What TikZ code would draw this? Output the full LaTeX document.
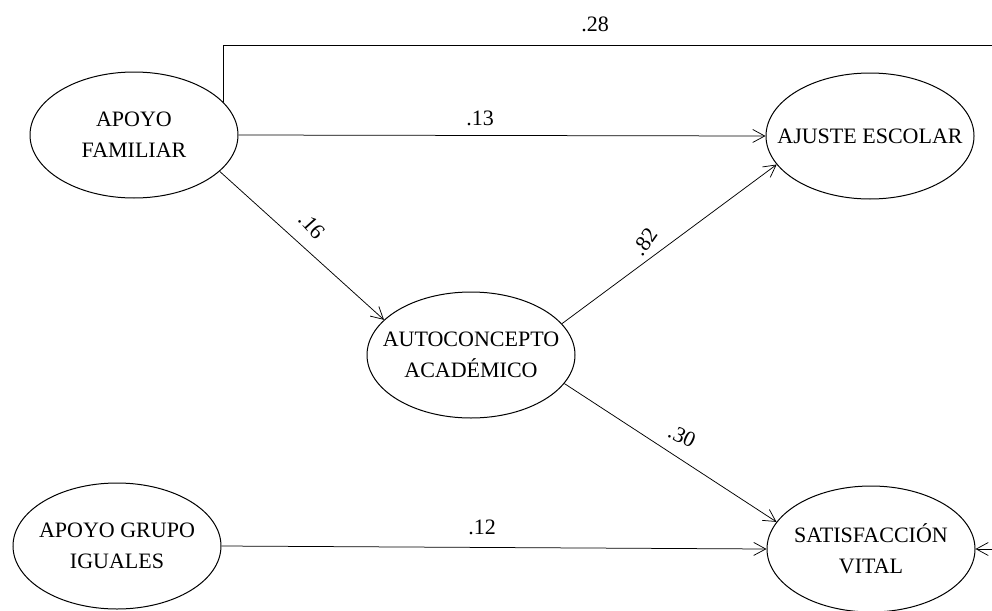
\documentclass[tikz,border=0pt]{standalone}
\usepackage{fontspec}
\setmainfont{Liberation Serif}
\usetikzlibrary{shapes.geometric,arrows.meta}
\begin{document}
\begin{tikzpicture}[x=1pt,y=-1pt,
  txt/.style={font=\fontsize{22}{31}\selectfont},
  % negative inner sep keeps every ellipse at the same fixed size
  var/.style={txt,ellipse,draw,line width=1pt,inner xsep=-50pt,inner ysep=-20pt,
    minimum width=208pt,minimum height=126pt,align=center},
  path/.style={line width=0.75pt,-{Straight Barb[length=12pt,width=13pt,line width=0.75pt]}},
  coef/.style={txt,inner sep=0pt}]
\useasboundingbox (0,0) rectangle (992,610);

% latent variables
\node[var] (fam) at (134,135) {APOYO\\FAMILIAR};
\node[var] (ajuste) at (870,136) {AJUSTE ESCOLAR};
\node[var] (auto) at (471,355) {AUTOCONCEPTO\\ACADÉMICO};
\node[var] (iguales) at (117,546) {APOYO GRUPO\\IGUALES};
\node[var] (sat) at (871,549) {SATISFACCIÓN\\VITAL};

% route of the direct family -> satisfaction path along the top and right edge
\coordinate (topR) at (995,45);
\coordinate (botR) at (995,549);

% structural paths
\draw[line width=0.75pt] (fam.20) |- (topR) -- (botR);
\draw[path] (botR) -- (sat.east);
\draw[path] (fam.east) -- (ajuste.west);
\draw[path] (fam.-23) -- (auto.158);
\draw[path] (auto.19) -- (ajuste.-163);
\draw[path] (auto.-17) -- (sat.164);
\draw[path] (iguales.east) -- (sat.west);

% path coefficients
\node[coef] (c28) at (595,24) {.28};
\node[coef] (c13) at (480,118) {.13};
\node[coef,rotate=-48] (c16) at (312,226) {.16};
\node[coef,rotate=55] (c82) at (645,242) {.82};
\node[coef,rotate=-25] (c30) at (682,436) {.30};
\node[coef] (c12) at (482,527) {.12};
\end{tikzpicture}
\end{document}
